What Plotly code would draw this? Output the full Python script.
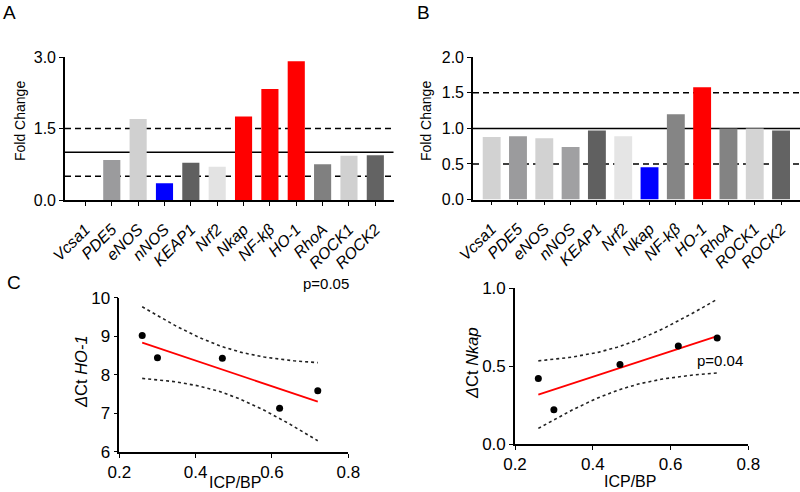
import numpy as np
import plotly.graph_objects as go

# ---------------- data ----------------
genes = ["Vcsa1", "PDE5", "eNOS", "nNOS", "KEAP1", "Nrf2", "Nkap",
         "NF-k\u03b2", "HO-1", "RhoA", "ROCK1", "ROCK2"]
fold_a = [0.0, 0.84, 1.70, 0.35, 0.78, 0.70, 1.75, 2.33, 2.91, 0.75, 0.93, 0.94]
fold_b = [0.88, 0.89, 0.86, 0.74, 0.97, 0.89, 0.455, 1.20, 1.58, 1.00, 1.00, 0.97]

icp_bp = [0.26, 0.30, 0.47, 0.62, 0.72]
dct_ho1 = [9.02, 8.44, 8.43, 7.13, 7.58]
dct_nkap = [0.42, 0.22, 0.51, 0.63, 0.68]

ref_lines = [0.5, 1.0, 1.5]
ticks_a = [0, 1.5, 3.0]
ticks_b = [0, 0.5, 1.0, 1.5, 2.0]
ticks_cx = [0.2, 0.4, 0.6, 0.8]
ticks_c1 = [6, 7, 8, 9, 10]
ticks_c2 = [0, 0.5, 1.0]

# ---------------- styles ----------------
colors_a = ["#ffffff", "#9b9b9d", "#d0d0d0", "#0000ff", "#606060", "#e3e3e3",
            "#ff0000", "#ff0000", "#ff0000", "#808080", "#d0d0d0", "#636363"]
colors_b = ["#d2d2d2", "#9b9b9d", "#d2d2d2", "#a0a0a2", "#606060", "#e5e5e5",
            "#0000ff", "#858585", "#ff0000", "#838383", "#d4d4d4", "#636363"]

FONT = "Liberation Sans, Arial, Helvetica, sans-serif"
W, H = 800, 492


def px_x(p):
    return p / W


def px_y(p):
    return 1 - p / H


fig = go.Figure()

fig.add_trace(go.Bar(x=genes, y=fold_a, marker=dict(color=colors_a, line=dict(width=0)),
                     width=0.65, xaxis="x", yaxis="y"))
fig.add_trace(go.Bar(x=genes, y=fold_b, marker=dict(color=colors_b, line=dict(width=0)),
                     width=0.68, xaxis="x2", yaxis="y2"))


def regression(xs, ys, tcrit=3.182):
    xs = np.asarray(xs, float)
    ys = np.asarray(ys, float)
    n = len(xs)
    slope, icpt = np.polyfit(xs, ys, 1)
    resid = ys - (slope * xs + icpt)
    s = np.sqrt(np.sum(resid ** 2) / (n - 2))
    sxx = np.sum((xs - xs.mean()) ** 2)
    xg = np.linspace(xs.min(), xs.max(), 60)
    yg = slope * xg + icpt
    se = s * np.sqrt(1.0 / n + (xg - xs.mean()) ** 2 / sxx)
    return xg, yg, yg - tcrit * se, yg + tcrit * se


for xa, ya, ys in [("x3", "y3", dct_ho1), ("x4", "y4", dct_nkap)]:
    xg, yg, lo, hi = regression(icp_bp, ys)
    for band in (lo, hi):
        fig.add_trace(go.Scatter(x=xg, y=band, mode="lines",
                                 line=dict(color="#222222", width=1.6, dash="dot"),
                                 xaxis=xa, yaxis=ya, hoverinfo="skip"))
    fig.add_trace(go.Scatter(x=xg, y=yg, mode="lines",
                             line=dict(color="#ff0000", width=1.8),
                             xaxis=xa, yaxis=ya))
    fig.add_trace(go.Scatter(x=icp_bp, y=ys, mode="markers",
                             marker=dict(color="black", size=7),
                             xaxis=xa, yaxis=ya))

axis_common = dict(showline=True, linecolor="black", linewidth=1.6, ticks="outside",
                   ticklen=4, tickwidth=1.4, tickcolor="black", showgrid=False,
                   zeroline=False, mirror=False, automargin=False)

cat_axis = dict(tickvals=genes, ticktext=["<i>%s</i>" % g for g in genes],
                tickangle=-45, tickfont=dict(size=16), ticklabelstandoff=8)

fig.update_layout(
    width=W, height=H, margin=dict(l=0, r=0, t=0, b=0, autoexpand=False),
    paper_bgcolor="white", plot_bgcolor="white", showlegend=False,
    font=dict(family=FONT, color="black"),
    bargap=0.3,
    xaxis=dict(axis_common, **cat_axis, domain=[px_x(65), px_x(393.5)], anchor="y",
               range=[-0.775, 11.69]),
    yaxis=dict(axis_common, domain=[px_y(200), px_y(57)], anchor="x",
               range=[0, 3.0], tickvals=ticks_a, tickformat=".1f",
               tickfont=dict(size=16)),
    xaxis2=dict(axis_common, **cat_axis, domain=[px_x(473), 1.0], anchor="y2",
                range=[-0.71, 11.72]),
    yaxis2=dict(axis_common, domain=[px_y(199.5), px_y(57.3)], anchor="x2",
                range=[0, 2.0], tickvals=ticks_b, tickformat=".1f",
                tickfont=dict(size=16)),
    xaxis3=dict(axis_common, domain=[px_x(119.3), px_x(348.3)], anchor="y3",
                range=[0.2, 0.8], tickvals=ticks_cx, tickformat=".1f",
                tickfont=dict(size=17)),
    yaxis3=dict(axis_common, domain=[px_y(451.7), px_y(297.7)], anchor="x3",
                range=[6, 10], tickvals=ticks_c1, tickfont=dict(size=17)),
    xaxis4=dict(axis_common, domain=[px_x(515), px_x(748.3)], anchor="y4",
                range=[0.2, 0.8], tickvals=ticks_cx, tickformat=".1f",
                tickfont=dict(size=17)),
    yaxis4=dict(axis_common, domain=[px_y(444), px_y(288.3)], anchor="x4",
                range=[0, 1.0], tickvals=ticks_c2, tickformat=".1f",
                tickfont=dict(size=17)),
)

# reference lines at 0.5 / 1.0 / 1.5 in A and B
for xr, yr in [("x", "y"), ("x2", "y2")]:
    for v in ref_lines:
        fig.add_shape(type="line", xref=xr + " domain", yref=yr, x0=0, x1=1, y0=v, y1=v,
                      line=dict(color="black", width=1.5,
                                dash="solid" if v == 1.0 else "6px,4px"),
                      layer="below")

ann = []


def text(x, y, s, size, angle=0):
    ann.append(dict(x=px_x(x), y=px_y(y), xref="paper", yref="paper", text=s,
                    showarrow=False, textangle=angle, xanchor="center", yanchor="middle",
                    font=dict(size=size, family=FONT, color="black")))


text(9, 12, "A", 19)
text(423, 12, "B", 19)
text(14, 282, "C", 19)
text(20, 121, "Fold Change", 14, -90)
text(426, 121, "Fold Change", 14, -90)
text(81, 372, "<i>\u0394</i>Ct <i>HO-1</i>", 16.5, -90)
text(472, 363, "<i>\u0394</i>Ct <i>Nkap</i>", 16.5, -90)
text(235, 482, "ICP/BP", 16)
text(630, 481, "ICP/BP", 16)
text(326, 283, "p=0.05", 15)
text(720, 360, "p=0.04", 15)
fig.update_layout(annotations=ann)

fig.write_html(
    "out.html",
    config={"displayModeBar": False},
    post_script="document.body.style.margin='0';document.body.style.overflow='hidden';",
)
